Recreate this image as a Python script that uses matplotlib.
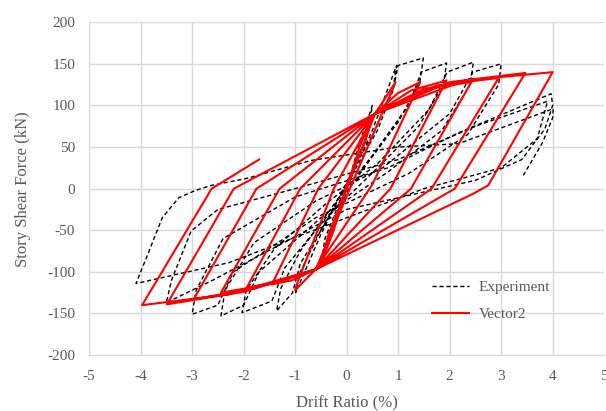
import matplotlib.pyplot as plt

# Experiment (drift %, story shear kN), traced cycle by cycle
exp_drift = [
    0.0, 0.25, 0.5, 0.42, 0.1, -0.25, -0.5, -0.42, -0.1,
    0.5, 0.8, 0.97, 0.9, 0.55, 0.1, -0.5, -0.85, -0.99, -0.9, -0.5, -0.05,
    0.6, 0.9, 1.0, 1.49, 1.42, 1.0, 0.4, -0.3, -0.9, -1.05, -1.36, -1.28, -0.9, -0.2,
    0.5, 1.2, 1.45, 1.94, 1.88, 1.4, 0.6, -0.4, -1.2, -1.45, -2.03, -1.95, -1.4, -0.4,
    0.6, 1.6, 1.95, 2.46, 2.4, 1.85, 0.8, -0.5, -1.7, -2.0, -2.44, -2.36, -1.8, -0.6,
    0.7, 2.0, 2.45, 3.0, 2.95, 2.35, 1.2, -0.6, -2.2, -2.5, -3.0, -2.92, -2.4, -1.0,
    0.8, 2.17, 3.97, 4.0, 3.85, 3.4, 2.5, 0.0, -2.6, -3.5, -3.4, -3.02, -2.5, -1.0,
    1.0, 2.5, 3.9, 3.7, 3.0, 1.5, 0.0, -2.29, -4.09, -3.9, -3.58, -3.26, -2.93,
    -2.62, -1.96, -0.68, 1.0, 2.17, 4.01, 4.0, 3.8, 3.43,
]
exp_force = [
    0, 55, 100, 70, 15, -50, -90, -60, -10,
    70, 120, 148, 120, 70, 20, -55, -105, -125, -100, -50, 0,
    70, 118, 148, 157, 128, 80, 30, -30, -90, -125, -147, -120, -75, -15,
    40, 100, 140, 151, 125, 75, 25, -35, -95, -135, -149, -122, -72, -18,
    30, 95, 140, 152, 125, 70, 20, -35, -100, -140, -153, -122, -65, -15,
    25, 90, 140, 150, 125, 65, 18, -35, -100, -140, -151, -122, -60, -10,
    25, 67, 114, 100, 72, 35, 10, -25, -110, -137, -110, -51, -25, 0,
    35, 75, 105, 60, 25, 0, -35, -89, -114, -85, -35, -11, -2,
    4, 12, 34, 50, 54, 96, 85, 55, 16,
]

# VecTor2 prediction
vec_drift = [
    0.0, 0.25, 0.5, 0.35, 0.0, -0.25, -0.5, -0.35, 0.0,
    0.55, 0.95, 0.2, -0.6, -1.0, -0.95, -0.25, 0.55,
    1.0, 1.43, 0.5, -0.6, -1.05, -1.45, -0.55, 0.55,
    1.25, 1.94, 0.85, -0.6, -1.3, -1.94, -0.9, 0.55,
    1.5, 2.42, 1.25, -0.6, -1.5, -2.44, -1.3, 0.55,
    1.75, 2.95, 1.65, -0.6, -1.8, -2.97, -1.75, 0.55,
    2.0, 3.47, 2.1, -0.6, -2.0, -3.49, -2.19, 0.55,
    2.3, 4.0, 2.75, 2.46, -0.6, -2.3, -3.97, -2.62, -1.7,
]
vec_force = [
    0, 50, 88, 55, 5, -50, -90, -55, 0,
    90, 128, 20, -97, -122, -112, 0, 90,
    115, 128, 5, -97, -110, -115, 0, 90,
    118, 130, 0, -97, -112, -119, 0, 90,
    120, 128, 0, -97, -115, -125, 0, 90,
    124, 133, 0, -97, -120, -133, 0, 90,
    128, 139, 0, -97, -124, -139, 0, 90,
    130, 140, 4, -6, -97, -127, -140, 0, 35,
]

x_ticks = [-5, -4, -3, -2, -1, 0, 1, 2, 3, 4, 5]
y_ticks = [-200, -150, -100, -50, 0, 50, 100, 150, 200]

plt.rcParams["font.family"] = ["Liberation Serif", "DejaVu Serif"]
plt.rcParams["axes.unicode_minus"] = False
text_color = "#595959"
grid_color = "#d9d9d9"

fig = plt.figure(figsize=(6.06, 4.11), dpi=100)
ax = fig.add_axes([0.147, 0.136, 0.850, 0.810])

ax.plot(exp_drift, exp_force, color="black", linestyle=(0, (3, 2)), linewidth=1.0,
        label="Experiment")
ax.plot(vec_drift, vec_force, color="#ff0000", linewidth=1.5, label="Vector2")

ax.set_xlim(-5, 5)
ax.set_ylim(-200, 200)
ax.set_xticks(x_ticks)
ax.set_yticks(y_ticks)
ax.grid(True, color=grid_color, linewidth=1.0)
ax.set_axisbelow(True)
for side in ["top", "right"]:
    ax.spines[side].set_visible(False)
for side in ["left", "bottom"]:
    ax.spines[side].set_color(grid_color)
ax.tick_params(length=0, labelsize=11, colors=text_color)
ax.tick_params(axis="x", pad=11)
ax.tick_params(axis="y", pad=10)

ax.set_xlabel("Drift Ratio (%)", fontsize=12, color=text_color, labelpad=9)
ax.set_ylabel("Story Shear Force (kN)", fontsize=12, color=text_color, labelpad=12)

leg = ax.legend(loc="upper left", bbox_to_anchor=(0.64, 0.265), frameon=False,
                fontsize=11, handlelength=2.4, handletextpad=0.6, labelspacing=0.85)
for t in leg.get_texts():
    t.set_color(text_color)

fig.savefig("out.png", dpi=100)
